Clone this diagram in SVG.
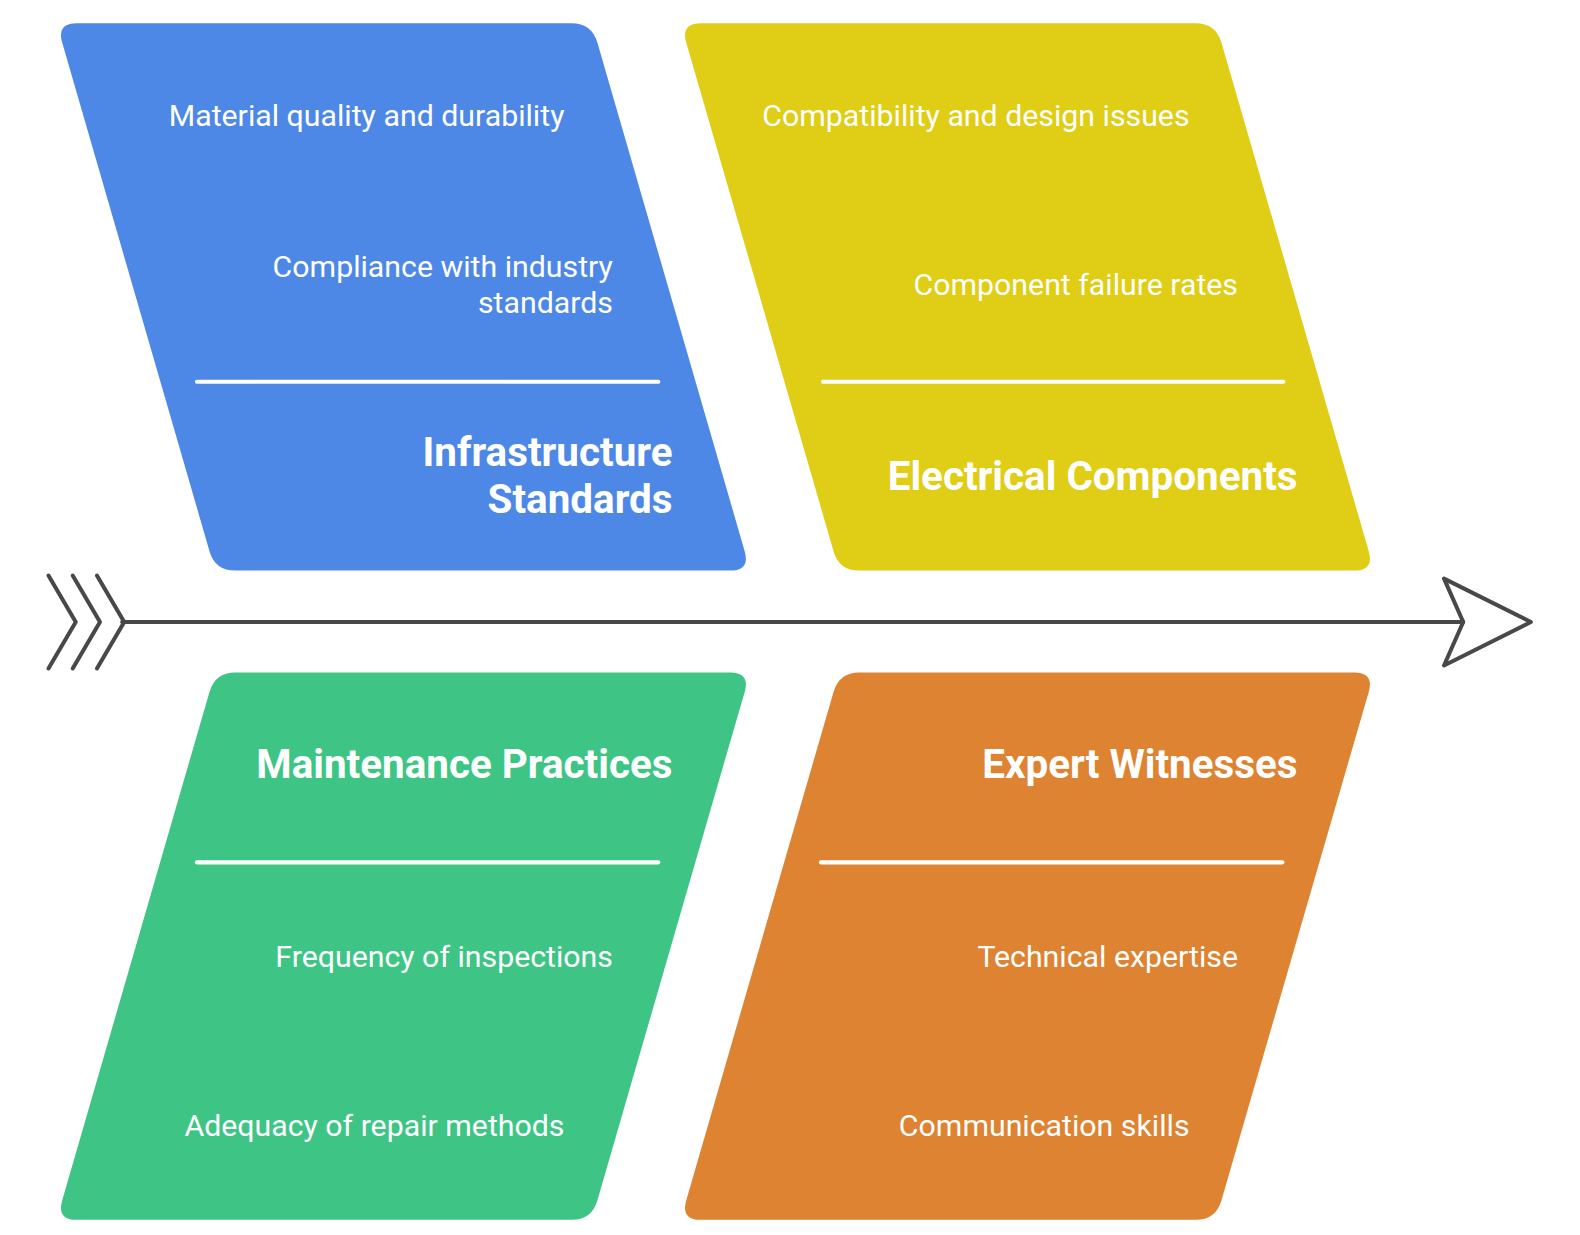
<svg xmlns="http://www.w3.org/2000/svg" width="1580" height="1235" viewBox="0 0 1580 1235">
<defs>
<style>
.sub{font-family:Roboto,"Liberation Sans",sans-serif;font-size:30px;fill:#ffffff;text-anchor:end}
.ttl{font-family:Roboto,"Liberation Sans",sans-serif;font-size:40px;font-weight:bold;fill:#ffffff;text-anchor:end}
.sep{stroke:#ffffff;stroke-width:4;stroke-linecap:round;fill:none}
.spine{stroke:#484848;stroke-width:4;stroke-linecap:round;stroke-linejoin:round;fill:none}
</style>
<path id="upShape" d="M76,23 L566,23 Q586,23 591.56,42.21 L737.44,545.79 Q743,565 723,565 L233,565 Q213,565 207.44,545.79 L61.56,42.21 Q56,23 76,23 Z"/>
<path id="downShape" d="M233,666 L723,666 Q743,666 737.44,685.21 L591.56,1188.79 Q586,1208 566,1208 L76,1208 Q56,1208 61.56,1188.79 L207.44,685.21 Q213,666 233,666 Z"/>
</defs>
<rect width="1580" height="1235" fill="#ffffff"/>
<g transform="scale(1.0098)">
<g id="infrastructure-standards">
<use href="#upShape" fill="#4E88E6"/>
<text class="sub" x="559" y="125">Material quality and durability</text>
<text class="sub" x="607" y="274">Compliance with industry</text>
<text class="sub" x="607" y="310">standards</text>
<line class="sep" x1="195" y1="378" x2="652" y2="378"/>
<text class="ttl" x="666" y="461">Infrastructure</text>
<text class="ttl" x="666" y="508">Standards</text>
</g>
<g id="electrical-components">
<use href="#upShape" fill="#DFCD16" x="618"/>
<text class="sub" x="1178" y="125">Compatibility and design issues</text>
<text class="sub" x="1226" y="292">Component failure rates</text>
<line class="sep" x1="815" y1="378" x2="1271" y2="378"/>
<text class="ttl" x="1285" y="485">Electrical Components</text>
</g>
<g id="maintenance-practices">
<use href="#downShape" fill="#3EC585"/>
<text class="ttl" x="666" y="770">Maintenance Practices</text>
<line class="sep" x1="195" y1="854" x2="652" y2="854"/>
<text class="sub" x="607" y="958">Frequency of inspections</text>
<text class="sub" x="559" y="1125">Adequacy of repair methods</text>
</g>
<g id="expert-witnesses">
<use href="#downShape" fill="#DD8331" x="618"/>
<text class="ttl" x="1285" y="770">Expert Witnesses</text>
<line class="sep" x1="813" y1="854" x2="1270" y2="854"/>
<text class="sub" x="1226" y="958">Technical expertise</text>
<text class="sub" x="1178" y="1125">Communication skills</text>
</g>
<g id="connectors">
<line class="spine" x1="121" y1="616" x2="1449" y2="616"/>
<polyline class="spine" points="48,570 75,616 48,662"/>
<polyline class="spine" points="72,570 99,616 72,662"/>
<polyline class="spine" points="96,570 123,616 96,662"/>
<polygon class="spine" points="1430,573 1516,616 1430,659 1449,616"/>
</g>
</g>
</svg>
